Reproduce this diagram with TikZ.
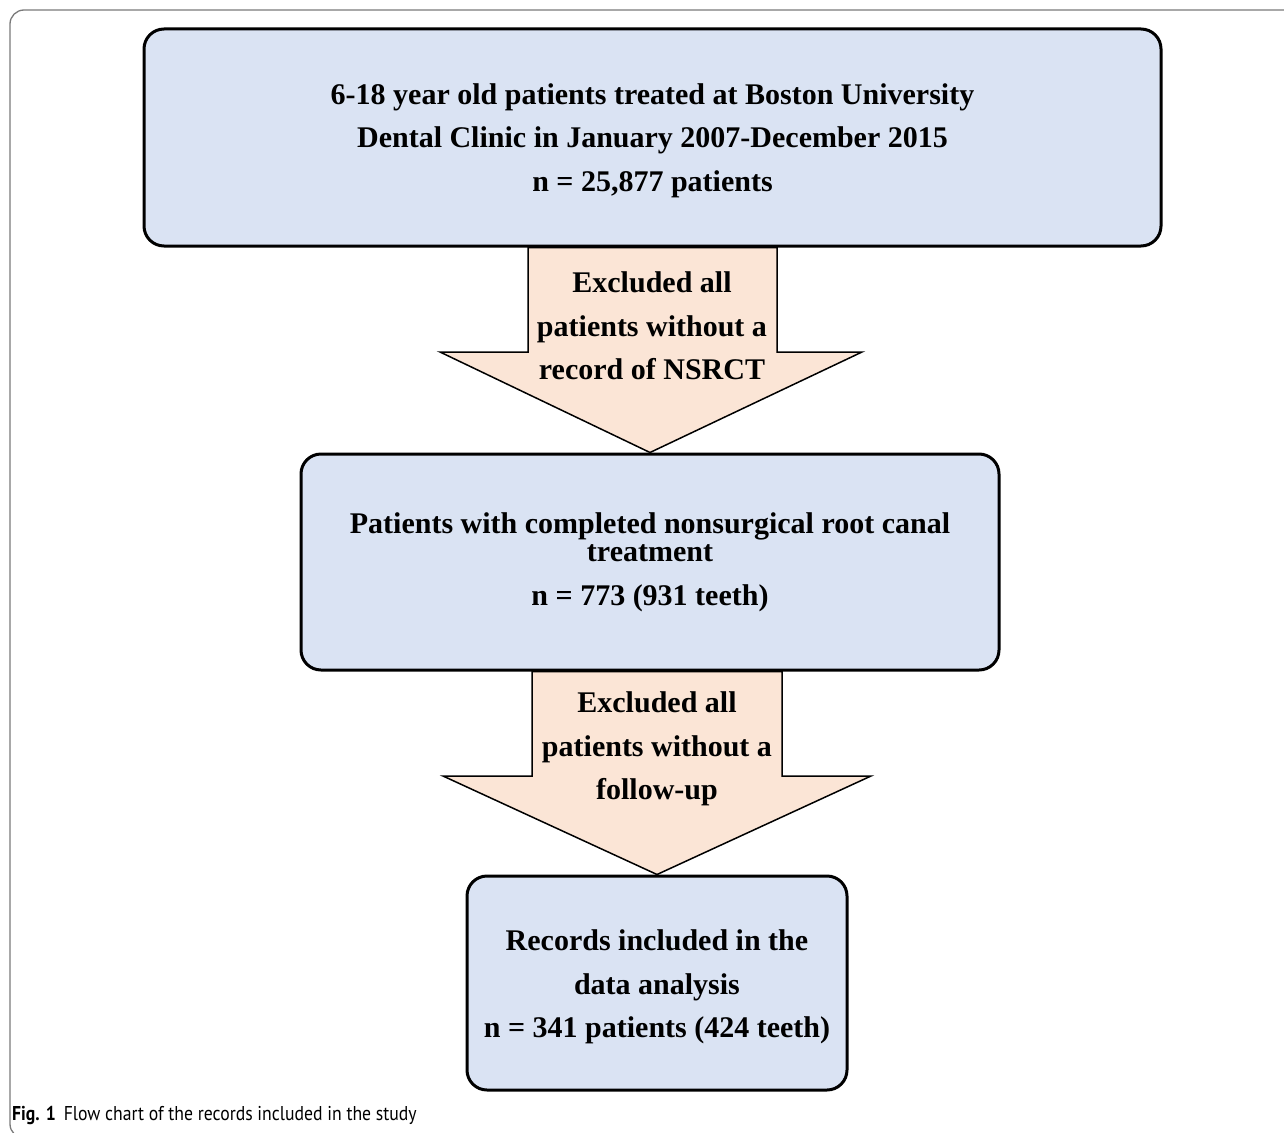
\documentclass[tikz,border=0pt]{standalone}
\usepackage{fontspec}
\setmainfont{Liberation Serif}
\newfontfamily\capfont{PT Sans}
\usetikzlibrary{calc,backgrounds}
\definecolor{boxblue}{HTML}{DAE3F3}
\definecolor{arrowpeach}{HTML}{FBE5D6}
\definecolor{framegray}{HTML}{7A7A7A}
\tikzset{
  flowbox/.style={draw=black, line width=3pt, fill=boxblue, rounded corners=20pt,
    align=center, inner sep=0pt, font=\fontsize{30}{43.5}\selectfont\bfseries},
  arrowshape/.style={draw=black, line width=1.5pt, fill=arrowpeach, line join=miter},
  arrowtext/.style={align=center, inner sep=0pt, font=\fontsize{30}{43.5}\selectfont\bfseries},
  framestyle/.style={draw=framegray, line width=1.3pt, rounded corners=14pt},
  captext/.style={anchor=base west, inner sep=0pt, font=\capfont\fontsize{20}{24}\selectfont}
}
\begin{document}
\begin{tikzpicture}[x=1pt,y=-1pt]
\useasboundingbox (0,0) rectangle (1284,1132);
\clip (0,0) rectangle (1284,1132);
\draw[framestyle] (1300,10) -- (10,10) -- (10,1138) -- (1300,1138);

\node[flowbox, minimum width=1017pt, minimum height=217pt] (b1) at (652.5,137.5)
  {\rule{0pt}{27pt}6-18 year old patients treated at Boston University\\
   Dental Clinic in January 2007-December 2015\\
   n = 25,877 patients};
\node[flowbox, minimum width=698pt, minimum height=216pt] (b2) at (650,562)
  {Patients with completed nonsurgical root canal\\[-15pt]
   treatment\\
   n = 773 (931 teeth)};
\node[flowbox, minimum width=380pt, minimum height=214pt] (b3) at (657,983)
  {\rule{0pt}{29pt}Records included in the\\
   data analysis\\
   n = 341 patients (424 teeth)};

\begin{scope}[on background layer]
\fill[white] (0,0) rectangle (1284,1132);
\path[arrowshape] (528,0 |- b1.south) -- (528,352) -- (440,352) -- (b2.north)
  -- (862,352) -- (777,352) -- (777,0 |- b1.south) -- cycle;
\path[arrowshape] (532,0 |- b2.south) -- (532,776) -- (443,776) -- (b3.north)
  -- (871,776) -- (782,776) -- (782,0 |- b2.south) -- cycle;
\end{scope}

\node[arrowtext] (a1) at (652,326) {Excluded all\\ patients without a\\ record of NSRCT};
\node[arrowtext] (a2) at (657,749) {Excluded all\\ patients without a\\ follow-up};

\node[captext] (cap) at (12,1120) {\scalebox{0.885}[1]{\textbf{Fig. 1}\hspace{9pt}Flow chart of the records included in the study}};
\end{tikzpicture}
\end{document}
